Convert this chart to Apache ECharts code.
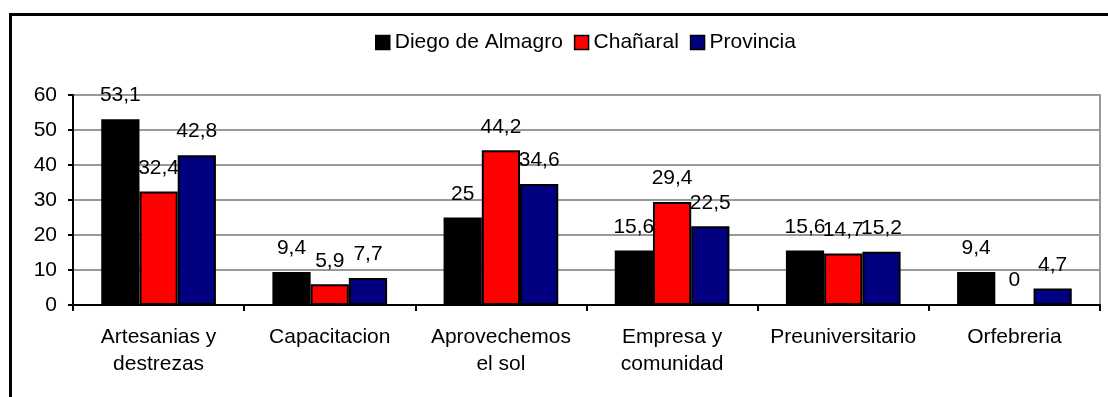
<!DOCTYPE html>
<html>
<head>
<meta charset="utf-8">
<script src="https://cdn.jsdelivr.net/npm/echarts@6/dist/echarts.min.js"></script>
<style>
  html, body { margin: 0; padding: 0; background: #fff; }
  #chart { width: 1108px; height: 397px; }
</style>
</head>
<body>
<div id="chart"></div>
<script>
// Workshop participation by area (%)
const categories = [
  'Artesanias y\ndestrezas',
  'Capacitacion',
  'Aprovechemos\nel sol',
  'Empresa y\ncomunidad',
  'Preuniversitario',
  'Orfebreria'
];
const diegoDeAlmagro = [53.1, 9.4, 25, 15.6, 15.6, 9.4];
const chanaral = [32.4, 5.9, 44.2, 29.4, 14.7, 0];
const provincia = [42.8, 7.7, 34.6, 22.5, 15.2, 4.7];
const yTicks = { min: 0, max: 60, interval: 10 };

const FONT = '"Liberation Sans", Arial, sans-serif';

function labelText(p) {
  return String(p.value).replace('.', ',');
}

function makeSeries(name, data, color) {
  return {
    name: name,
    type: 'bar',
    data: data,
    barGap: '0%',
    barCategoryGap: '33%',
    itemStyle: { color: color, borderColor: '#000', borderWidth: 2 },
    label: {
      show: true,
      position: 'top',
      distance: 13,
      color: '#000',
      fontFamily: FONT,
      fontSize: 21,
      formatter: labelText
    }
  };
}

const chart = echarts.init(document.getElementById('chart'), null, { renderer: 'canvas' });
chart.setOption({
  animation: false,
  backgroundColor: '#fff',
  textStyle: { fontFamily: FONT },
  graphic: [{
    type: 'rect',
    shape: { x: 10.5, y: 14.5, width: 1120, height: 420 },
    style: { fill: 'none', stroke: '#000', lineWidth: 3 },
    silent: true,
    z: 100
  }],
  legend: {
    left: 370,
    top: 27,
    itemWidth: 14,
    itemHeight: 14,
    itemGap: 11,
    icon: 'rect',
    textStyle: { fontFamily: FONT, fontSize: 21, color: '#000' },
    data: [
      { name: 'Diego de Almagro', itemStyle: { borderColor: '#000', borderWidth: 1.5 } },
      { name: 'Chañaral', itemStyle: { borderColor: '#000', borderWidth: 1.5 } },
      { name: 'Provincia', itemStyle: { borderColor: '#000', borderWidth: 1.5 } }
    ]
  },
  grid: {
    left: 73,
    right: 8,
    top: 95,
    bottom: 92,
    show: true,
    borderColor: '#999',
    borderWidth: 2,
    backgroundColor: 'transparent'
  },
  xAxis: {
    type: 'category',
    data: categories,
    axisLine: { lineStyle: { color: '#000', width: 2 } },
    axisTick: { show: true, length: 6, lineStyle: { color: '#000', width: 2 } },
    axisLabel: {
      color: '#000',
      fontFamily: FONT,
      fontSize: 21,
      lineHeight: 27,
      margin: 19,
      interval: 0
    }
  },
  yAxis: {
    type: 'value',
    min: yTicks.min,
    max: yTicks.max,
    interval: yTicks.interval,
    axisLine: { show: true, lineStyle: { color: '#000', width: 2 } },
    axisTick: { show: true, length: 5, lineStyle: { color: '#000', width: 2 } },
    axisLabel: { color: '#000', fontFamily: FONT, fontSize: 21, margin: 16 },
    splitLine: { show: true, lineStyle: { color: '#999', width: 2 } }
  },
  series: [
    makeSeries('Diego de Almagro', diegoDeAlmagro, '#000000'),
    makeSeries('Chañaral', chanaral, '#ff0000'),
    makeSeries('Provincia', provincia, '#000080')
  ]
});
</script>
</body>
</html>
